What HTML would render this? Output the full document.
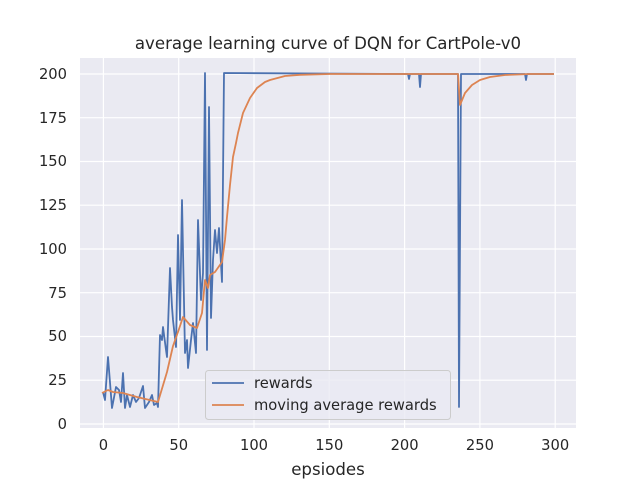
<!DOCTYPE html>
<html><head><meta charset="utf-8"><style>body{margin:0;background:#fff}svg{display:block}text{font-family:"DejaVu Sans","Liberation Sans",sans-serif;fill:#262626}</style></head><body>
<svg width="640" height="480" viewBox="0 0 640 480">
<rect x="80" y="58" width="496" height="370" fill="#eaeaf2"/>
<g stroke="#fff" stroke-width="1.2">
<line x1="103.4" y1="58" x2="103.4" y2="428"/><line x1="178.7" y1="58" x2="178.7" y2="428"/><line x1="254" y1="58" x2="254" y2="428"/><line x1="329.3" y1="58" x2="329.3" y2="428"/><line x1="404.6" y1="58" x2="404.6" y2="428"/><line x1="479.9" y1="58" x2="479.9" y2="428"/><line x1="555.2" y1="58" x2="555.2" y2="428"/>
<line x1="80" y1="424" x2="576" y2="424"/><line x1="80" y1="380.2" x2="576" y2="380.2"/><line x1="80" y1="336.5" x2="576" y2="336.5"/><line x1="80" y1="292.7" x2="576" y2="292.7"/><line x1="80" y1="249" x2="576" y2="249"/><line x1="80" y1="205.2" x2="576" y2="205.2"/><line x1="80" y1="161.5" x2="576" y2="161.5"/><line x1="80" y1="117.7" x2="576" y2="117.7"/><line x1="80" y1="74" x2="576" y2="74"/>
</g>
<g font-size="14.7" text-anchor="middle">
<text x="103.4" y="450">0</text><text x="178.7" y="450">50</text><text x="254" y="450">100</text><text x="329.3" y="450">150</text><text x="404.6" y="450">200</text><text x="479.9" y="450">250</text><text x="555.2" y="450">300</text>
</g>
<g font-size="14.7" text-anchor="end">
<text x="67" y="429">0</text><text x="67" y="385">25</text><text x="67" y="341">50</text><text x="67" y="298">75</text><text x="67" y="254">100</text><text x="67" y="210">125</text><text x="67" y="166">150</text><text x="67" y="123">175</text><text x="67" y="79">200</text>
</g>
<text x="328" y="49" font-size="16.6" text-anchor="middle">average learning curve of DQN for CartPole-v0</text>
<text x="328" y="475" font-size="16.6" text-anchor="middle">epsiodes</text>
<polyline fill="none" stroke="#4c72b0" stroke-width="1.8" stroke-linejoin="round" points="103,392 105,400 108,357 112,408 116,387 119,390 121,402 123,373 125,408 127,395 130,407 133,395 136,402 139,398 143,386 145,408 149,402 152,395 154,405 157,403 158,407 160,335 162,340 163,327 166,350 167,357 170,268 172,307 173,320 176,347 178,235 180,320 182,200 185,353 187,340 188,368 191,340 193,323 196,353 198,220 201,300 203,273 205,73 207,350 209,107 211,318 213,260 215,230 217,253 219,228 222,282 224,73 408,74 409,79 410,74 419,74 420,87 421,74 458,74 459,407 461,74 525,74 526,80 527,74 554,74"/>
<polyline fill="none" stroke="#dd8452" stroke-width="1.8" stroke-linejoin="round" points="102,393 108,390 113,392 123,393 137,397 158,402 167,372 173,346 178,332 183,317 190,325 197,328 202,313 205,280 208,288 210,275 215,272 222,262 225,240 227,217 230,185 233,157 236,143 238,133 243,113 250,98 257,88 265,82 270,80 285,76 300,74.8 330,74 458,74 460,105 465,93 472,85 480,80 490,77 505,75 530,74 554,74"/>
<rect x="205.5" y="370.5" width="245" height="49" rx="3" fill="#eaeaf2" fill-opacity="0.8" stroke="#ccc"/>
<line x1="212" y1="383" x2="244" y2="383" stroke="#4c72b0" stroke-width="1.8"/>
<line x1="212" y1="405" x2="244" y2="405" stroke="#dd8452" stroke-width="1.8"/>
<text x="254" y="388" font-size="14.7">rewards</text>
<text x="254" y="410" font-size="14.7">moving average rewards</text>
</svg>
</body></html>
